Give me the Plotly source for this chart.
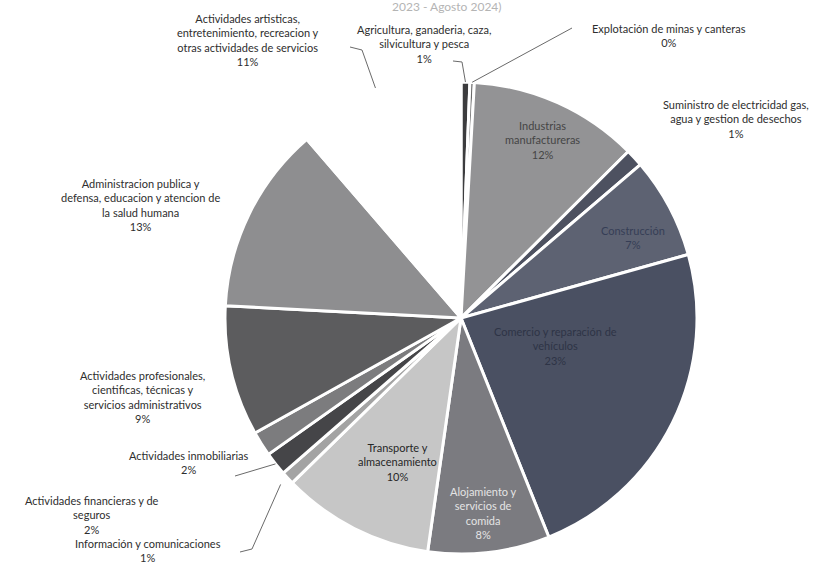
import math
import plotly.graph_objects as go

# ---------------- data ----------------
sectors = [
    "Agricultura, ganaderia, caza, silvicultura y pesca",
    "Explotación de minas y canteras",
    "Industrias manufactureras",
    "Suministro de electricidad gas, agua y gestion de desechos",
    "Construcción",
    "Comercio y reparación de vehículos",
    "Alojamiento y servicios de comida",
    "Transporte y almacenamiento",
    "Información y comunicaciones",
    "Actividades financieras y de seguros",
    "Actividades inmobiliarias",
    "Actividades profesionales, cientificas, técnicas y servicios administrativos",
    "Administracion publica y defensa, educacion y atencion de la salud humana",
    "Actividades artisticas, entretenimiento, recreacion y otras actividades de servicios",
]
shares = [0.6, 0.3, 11.6, 1.2, 6.9, 23.2, 8.3, 10.4, 0.9, 1.6, 1.7, 8.9, 12.8, 11.3]
display_names = [
    "Agricultura, ganaderia, caza,<br>silvicultura y pesca",
    "Explotación de minas y canteras",
    "Industrias<br>manufactureras",
    "Suministro de electricidad gas,<br>agua y gestion de desechos",
    "Construcción",
    "Comercio y reparación de<br>vehículos",
    "Alojamiento y<br>servicios de<br>comida",
    "Transporte y<br>almacenamiento",
    "Información y comunicaciones",
    "Actividades financieras y de<br>seguros",
    "Actividades inmobiliarias",
    "Actividades profesionales,<br>cientificas, técnicas y<br>servicios administrativos",
    "Administracion publica y<br>defensa, educacion y atencion de<br>la salud humana",
    "Actividades artisticas,<br>entretenimiento, recreacion y<br>otras actividades de servicios",
]
title_text = "2023 - Agosto 2024)"

# ---------------- styles ----------------
W, H = 827, 566
CX, CY, R = 461, 318, 236
FONT = "Lato, 'Open Sans', sans-serif"
TXT = "#2e2e2e"

slice_colors = ["#3c3c3e", "#6a6a6a", "#939395", "#4d5160", "#5d6272", "#4a5062",
                "#7b7b80", "#c6c6c6", "#a3a3a3", "#454548", "#7c7c7e", "#5c5c5e",
                "#8e8e90", "#ffffff"]

total = sum(shares)
pcts = [round(v / total * 100) for v in shares]

fig = go.Figure(go.Pie(
    labels=sectors, values=shares, sort=False, direction="clockwise", rotation=0,
    textinfo="none",
    marker=dict(colors=slice_colors, line=dict(color="#ffffff", width=3)),
    domain=dict(x=[(CX - R) / W, (CX + R) / W], y=[(H - CY - R) / H, (H - CY + R) / H]),
    showlegend=False, hoverinfo="label+percent",
))

# mid angle of each slice (clockwise from 12 o'clock), from the data
mids, cum = [], 0.0
for v in shares:
    mids.append((cum + v / 2) / total * 360)
    cum += v

def arc_pt(i, rf=1.0):
    a = math.radians(mids[i])
    return CX + R * rf * math.sin(a), CY - R * rf * math.cos(a)

def px(x, y):
    return x / W, 1 - y / H

# label placement: index -> (x center px, y center px, text colour)
label_pos = {
    13: (248, 40, TXT), 0: (424, 44, TXT), 1: (669, 35, TXT), 3: (736, 119, TXT),
    12: (140, 205, TXT), 11: (142, 397, TXT), 10: (188, 462, TXT), 9: (92, 515, TXT),
    8: (148, 550, TXT),
    2: (542, 140, "#454545"), 4: (633, 237, "#363e56"), 5: (555, 346, "#2e3446"),
    6: (484, 513, "#e4e4e4"), 7: (397, 462, "#262626"),
}
annotations = []
for i, (x, y, c) in label_pos.items():
    ax_, ay_ = px(x, y)
    annotations.append(dict(
        x=ax_, y=ay_, xref="paper", yref="paper", showarrow=False,
        text=f"{display_names[i]}<br>{pcts[i]}%", align="center",
        font=dict(family=FONT, size=11, color=c), xanchor="center", yanchor="middle",
    ))
annotations.append(dict(x=447 / W, y=1 - 7 / H, xref="paper", yref="paper", showarrow=False,
                        text=title_text, font=dict(family=FONT, size=12, color="#b4b4b4"),
                        xanchor="center", yanchor="middle"))

# leader lines: start point(s) px, end computed on the slice arc
leaders = {
    13: ([(350, 47), (362, 50)], 1.04),
    0: ([(453, 61), (462, 62)], 1.0),
    1: ([(572, 28)], 1.0),
    9: ([(235, 476)], 1.0),
    8: ([(240, 552), (252, 549)], 1.04),
}
shapes = []
for i, (pts, rf) in leaders.items():
    ex, ey = arc_pt(i, rf)
    allp = pts + [(ex, ey)]
    path = "M " + " L ".join(f"{px(x, y)[0]:.5f},{px(x, y)[1]:.5f}" for x, y in allp)
    shapes.append(dict(type="path", xref="paper", yref="paper", path=path,
                       line=dict(color="#6a6a6a", width=1)))

fig.update_layout(
    width=W, height=H, margin=dict(l=0, r=0, t=0, b=0),
    paper_bgcolor="#ffffff", plot_bgcolor="#ffffff",
    annotations=annotations, shapes=shapes,
)
fig.write_html("out.html", config={"displayModeBar": False},
               post_script="document.body.style.margin='0px';")
